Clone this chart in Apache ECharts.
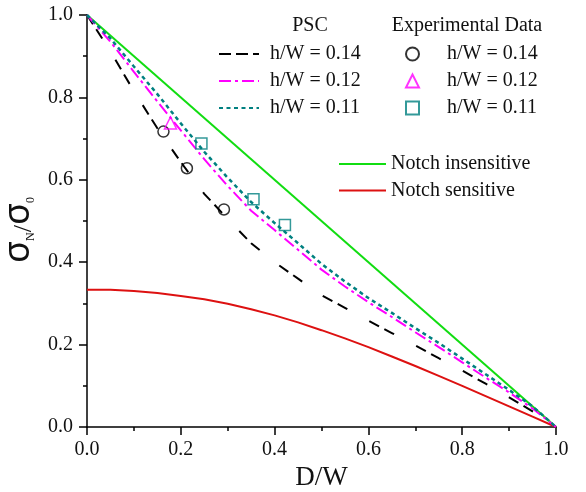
<!DOCTYPE html>
<html>
<head>
<meta charset="utf-8">
<script src="https://cdn.jsdelivr.net/npm/echarts@6/dist/echarts.min.js"></script>
<style>html,body{margin:0;padding:0;background:#fff;}#c{width:586px;height:492px;}</style>
</head>
<body>
<div id="c"></div>
<script>
// ---- data ----
const dwGrid = [0, 0.05, 0.1, 0.15, 0.2, 0.25, 0.3, 0.35, 0.4, 0.45, 0.5, 0.55, 0.6, 0.65, 0.7, 0.75, 0.8, 0.85, 0.9, 0.95, 1.0];
const pscH014 = [1.0, 0.912, 0.815, 0.725, 0.643, 0.566, 0.505, 0.446, 0.400, 0.360, 0.320, 0.289, 0.258, 0.228, 0.198, 0.167, 0.137, 0.105, 0.072, 0.038, 0.0];
const pscH012 = [1.0, 0.935, 0.862, 0.790, 0.720, 0.650, 0.585, 0.525, 0.478, 0.430, 0.382, 0.341, 0.303, 0.267, 0.230, 0.194, 0.157, 0.120, 0.084, 0.045, 0.0];
const pscH011 = [1.0, 0.943, 0.875, 0.808, 0.737, 0.668, 0.605, 0.546, 0.495, 0.446, 0.396, 0.353, 0.313, 0.277, 0.240, 0.204, 0.166, 0.128, 0.090, 0.050, 0.0];
const notchSensitive = [0.333, 0.333, 0.330, 0.325, 0.318, 0.310, 0.299, 0.286, 0.271, 0.254, 0.235, 0.215, 0.194, 0.171, 0.148, 0.124, 0.100, 0.075, 0.050, 0.025, 0.0];
const notchInsX = [0, 1];
const notchInsY = [1, 0];
const expH014X = [0.163, 0.213, 0.292];
const expH014Y = [0.717, 0.628, 0.528];
const expH012X = [0.178];
const expH012Y = [0.738];
const expH011X = [0.244, 0.355, 0.422];
const expH011Y = [0.688, 0.553, 0.490];

const pair = (xs, ys) => xs.map((x, i) => [x, ys[i]]);
const SERIF = 'Liberation Serif';
const NOFILL = 'rgba(0,0,0,0)';

const chart = echarts.init(document.getElementById('c'), null, {renderer: 'canvas'});
const lineS = (name, xs, ys, color, type, width, z) => ({
  name, type: 'line', data: pair(xs, ys), symbol: 'none', showSymbol: false, z: z || 3,
  lineStyle: {color, type, width}, itemStyle: {color: NOFILL, borderWidth: 0}
});
const scatS = (name, xs, ys, symbol, color, size) => ({
  name, type: 'scatter', data: pair(xs, ys), symbol, symbolSize: size, z: 5,
  itemStyle: {color: NOFILL, borderColor: color, borderWidth: 1.5}
});

const option = {
  animation: false,
  backgroundColor: '#fff',
  grid: {left: 87, right: 30, top: 15, bottom: 65, containLabel: false, outerBoundsMode: 'none'},
  xAxis: {
    type: 'value', min: 0, max: 1, interval: 0.2,
    name: 'D/W', nameLocation: 'middle', nameGap: 33,
    nameTextStyle: {fontFamily: SERIF, fontSize: 27, color: '#111'},
    axisLine: {show: true, lineStyle: {color: '#000', width: 1.5}},
    axisTick: {show: true, inside: false, length: 8, lineStyle: {color: '#000', width: 1.5}},
    minorTick: {show: true, splitNumber: 2, length: 4, lineStyle: {color: '#000', width: 1.5}},
    splitLine: {show: false},
    axisLabel: {fontFamily: SERIF, fontSize: 20, color: '#111', margin: 13, formatter: v => v.toFixed(1)}
  },
  yAxis: {
    type: 'value', min: 0, max: 1, interval: 0.2,
    name: '{s|σ}{sub|N}{sl|/}{s|σ}{sub|0}', nameLocation: 'middle', nameGap: 43, nameRotate: 90,
    nameTextStyle: {
      color: '#111', padding: [0, 18, 0, 0],
      rich: {
        s: {fontFamily: 'Noto Sans', fontSize: 36, lineHeight: 36, verticalAlign: 'bottom', color: '#111'},
        sl: {fontFamily: SERIF, fontSize: 26, lineHeight: 30, verticalAlign: 'bottom', color: '#111'},
        sub: {fontFamily: SERIF, fontSize: 12, lineHeight: 12, verticalAlign: 'bottom', color: '#111'}
      }
    },
    axisLine: {show: true, lineStyle: {color: '#000', width: 1.5}},
    axisTick: {show: true, inside: false, length: 8, lineStyle: {color: '#000', width: 1.5}},
    minorTick: {show: true, splitNumber: 2, length: 4, lineStyle: {color: '#000', width: 1.5}},
    splitLine: {show: false},
    axisLabel: {fontFamily: SERIF, fontSize: 20, color: '#111', margin: 14, formatter: v => v.toFixed(1)}
  },
  legend: [
    {
      orient: 'vertical', left: 218, top: 44, padding: 0, itemGap: 7, itemWidth: 40, itemHeight: 14,
      selectedMode: false, formatter: n => n.replace(/^PSC /, ''),
      itemStyle: {color: NOFILL, borderWidth: 0},
      textStyle: {fontFamily: SERIF, fontSize: 20, lineHeight: 20, color: '#111', padding: [0, 0, 0, 6]},
      data: [
        {name: 'PSC h/W = 0.14', lineStyle: {type: [12, 5]}},
        {name: 'PSC h/W = 0.12'},
        {name: 'PSC h/W = 0.11'}
      ]
    },
    {
      orient: 'vertical', left: 405, top: 44, padding: 0, itemGap: 7, itemWidth: 13, itemHeight: 13,
      selectedMode: false, formatter: n => n.replace(/^Exp /, ''),
      textStyle: {fontFamily: SERIF, fontSize: 20, lineHeight: 20, color: '#111', padding: [0, 0, 0, 23]},
      data: ['Exp h/W = 0.14', 'Exp h/W = 0.12', 'Exp h/W = 0.11']
    },
    {
      orient: 'vertical', left: 338, top: 154, padding: 0, itemGap: 6.6, itemWidth: 47, itemHeight: 14,
      selectedMode: false,
      itemStyle: {color: NOFILL, borderWidth: 0},
      textStyle: {fontFamily: SERIF, fontSize: 20, lineHeight: 20, color: '#111'},
      data: ['Notch insensitive', 'Notch sensitive']
    }
  ],
  graphic: [
    {type: 'text', x: 310, y: 26, style: {text: 'PSC', font: '20px "Liberation Serif"', fill: '#111', align: 'center', verticalAlign: 'middle'}},
    {type: 'text', x: 467, y: 26, style: {text: 'Experimental Data', font: '20px "Liberation Serif"', fill: '#111', align: 'center', verticalAlign: 'middle'}}
  ],
  series: [
    lineS('Notch insensitive', notchInsX, notchInsY, '#11dd11', 'solid', 2, 2),
    lineS('Notch sensitive', dwGrid, notchSensitive, '#dd1111', 'solid', 2),
    lineS('PSC h/W = 0.14', dwGrid, pscH014, '#000000', [11, 6, 11, 25], 2),
    lineS('PSC h/W = 0.12', dwGrid, pscH012, '#ff00ff', [12, 4, 3, 4], 2),
    lineS('PSC h/W = 0.11', dwGrid, pscH011, '#008080', [4, 3.5], 2.5),
    scatS('Exp h/W = 0.14', expH014X, expH014Y, 'circle', '#000000', 11),
    scatS('Exp h/W = 0.12', expH012X, expH012Y, 'triangle', '#ff00ff', 12),
    scatS('Exp h/W = 0.11', expH011X, expH011Y, 'rect', '#008080', 11)
  ]
};
chart.setOption(option);
</script>
</body>
</html>
